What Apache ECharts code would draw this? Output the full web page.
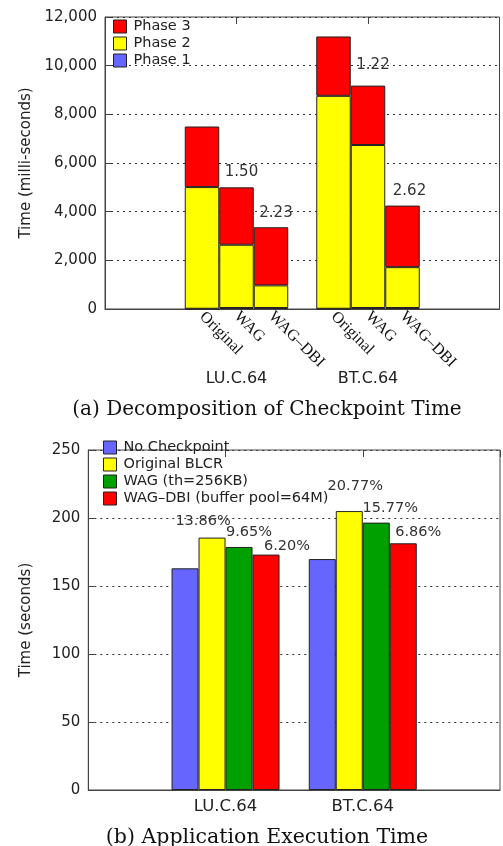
<!DOCTYPE html>
<html><head><meta charset="utf-8">
<script src="https://cdn.jsdelivr.net/npm/echarts@6/dist/echarts.min.js"></script>
<style>html,body{margin:0;padding:0;background:#fff}#c{width:503px;height:846px}</style>
</head><body><div id="c"></div>
<script>
// ---------- data ----------
const benchmarks = ['LU.C.64', 'BT.C.64'];
const methods = ['Original', 'WAG', 'WAG\u2013DBI'];
const topTicks = [0, 2000, 4000, 6000, 8000, 10000, 12000];
// checkpoint time phases (ms); rows follow `methods`, columns follow `benchmarks`
const phase1Values = [[10, 10], [40, 40], [40, 40]];
const phase2Values = [[5000, 8750], [2600, 6700], [930, 1680]];
const phase3Values = [[2490, 2440], [2360, 2440], [2390, 2530]];
const speedups = [['', ''], ['1.50', '1.22'], ['2.23', '2.62']];

const bottomTicks = [0, 50, 100, 150, 200, 250];
const execNames = ['No Checkpoint', 'Original BLCR', 'WAG (th=256KB)', 'WAG\u2013DBI (buffer pool=64M)'];
const execNoCkpt = [163.0, 169.8];
const execOrig = [185.6, 205.1];
const execWag = [178.7, 196.6];
const execDbi = [173.1, 181.4];
const overheadOrig = ['13.86%', '20.77%'];
const overheadWag = ['9.65%', '15.77%'];
const overheadDbi = ['6.20%', '6.86%'];

// ---------- layout / style ----------
const FONT = 'DejaVu Sans';
const cats = [''].concat(benchmarks, ['']);
const phaseColors = ['#6666ff', '#ffff00', '#ff0000'];
const phaseNames = ['Phase 1', 'Phase 2', 'Phase 3'];
const execColors = ['#6666ff', '#ffff00', '#00a000', '#ff0000'];
const speedOffsets = [[[0, 0], [0, 0]], [[5, -3], [5, -8]], [[5, -2], [7, -2]]];
const pctOffsets = [null, [[-9, -4], [6, -12.5]], [[10, -2.5], [14, -2]], [[21, 4.5], [15, 1.5]]];

function wrap(arr, fn) {
  return ['-'].concat(arr.map((v, i) => fn(v, i)), ['-']);
}

const series = [];
const phaseArrays = [phase1Values, phase2Values, phase3Values];
methods.forEach((m, mi) => {
  phaseArrays.forEach((arr, pi) => {
    const s = {
      type: 'bar', name: phaseNames[pi], stack: m,
      xAxisIndex: 0, yAxisIndex: 0,
      barWidth: 34.5, barGap: '0%',
      itemStyle: { color: phaseColors[pi], borderColor: '#222', borderWidth: 1 },
      data: wrap(arr[mi], (v, bi) => {
        const it = { value: v };
        if (pi === 2 && speedups[mi][bi]) {
          it.label = { show: true, position: 'top', distance: 5, offset: speedOffsets[mi][bi],
            formatter: () => speedups[mi][bi], fontFamily: FONT, fontSize: 15, color: '#333' };
        }
        return it;
      })
    };
    if (pi === 0) {
      s.label = { show: true, position: 'bottom', distance: 5, rotate: -45, align: 'left', verticalAlign: 'middle',
        formatter: () => m, fontFamily: 'Liberation Serif', fontSize: 16, color: '#111' };
    }
    series.push(s);
  });
});

const execArrays = [execNoCkpt, execOrig, execWag, execDbi];
const pctArrays = [null, overheadOrig, overheadWag, overheadDbi];
execArrays.forEach((arr, si) => {
  series.push({
    type: 'bar', name: execNames[si], xAxisIndex: 2, yAxisIndex: 1,
    barWidth: 27, barGap: '0%',
    itemStyle: { color: execColors[si], borderColor: '#222', borderWidth: 1 },
    data: wrap(arr, (v, bi) => {
      const it = { value: v };
      if (pctArrays[si]) {
        it.label = { show: true, position: 'top', distance: 5, offset: pctOffsets[si][bi],
          formatter: () => pctArrays[si][bi], fontFamily: FONT, fontSize: 14.5, color: '#333' };
      }
      return it;
    })
  });
});

const splitStyle = { show: true, lineStyle: { color: '#333', width: 1, type: [2, 4] } };

function yAxis(grid, ticks, name, gap, fontSize) {
  return {
    gridIndex: grid, type: 'value', min: ticks[0], max: ticks[ticks.length - 1],
    interval: ticks[1] - ticks[0],
    axisLine: { show: true, lineStyle: { color: '#444' } },
    axisTick: { show: true, inside: true, length: 6, lineStyle: { color: '#444' } },
    axisLabel: { fontFamily: FONT, fontSize: fontSize, color: '#222', margin: 8,
      formatter: v => v.toLocaleString('en-US') },
    splitLine: splitStyle,
    name: name, nameLocation: 'middle', nameGap: gap,
    nameTextStyle: { fontFamily: FONT, fontSize: 15, color: '#222' }
  };
}
function xBottom(grid, margin, fontSize) {
  return {
    gridIndex: grid, type: 'category', data: cats, boundaryGap: false,
    axisLine: { show: true, lineStyle: { color: '#444' } },
    axisTick: { show: false },
    axisLabel: { interval: 0, margin: margin, fontFamily: FONT, fontSize: fontSize, color: '#222' },
    splitLine: { show: false }
  };
}
function xTop(grid) {
  return {
    gridIndex: grid, type: 'category', data: cats, boundaryGap: false, position: 'top',
    axisLine: { show: false },
    axisTick: { show: true, inside: true, length: 7, interval: 0, lineStyle: { color: '#444' } },
    axisLabel: { show: false }, splitLine: { show: false }
  };
}

const option = {
  animation: false,
  backgroundColor: '#fff',
  title: [
    { text: '(a) Decomposition of Checkpoint Time', left: 262, textAlign: 'center', top: 395,
      textStyle: { fontFamily: 'DejaVu Serif', fontSize: 20, fontWeight: 'normal', color: '#111' } },
    { text: '(b) Application Execution Time', left: 262, textAlign: 'center', top: 822,
      textStyle: { fontFamily: 'DejaVu Serif', fontSize: 20.5, fontWeight: 'normal', color: '#111' } }
  ],
  grid: [
    { left: 105, right: 3.5, top: 17, height: 292, show: true, borderColor: '#444', borderWidth: 1 },
    { left: 88.3, right: 3, top: 450, height: 340, show: true, borderColor: '#444', borderWidth: 1 }
  ],
  legend: [
    { data: ['Phase 3', 'Phase 2', 'Phase 1'], orient: 'vertical', left: 108, top: 14,
      itemWidth: 13, itemHeight: 13, itemGap: 2, icon: 'rect',
      itemStyle: { borderColor: '#222', borderWidth: 1 },
      textStyle: { fontFamily: FONT, fontSize: 14.5, color: '#222', lineHeight: 14, padding: [0, 0, 0, 2] } },
    { data: execNames, orient: 'vertical', left: 98, top: 435,
      itemWidth: 13, itemHeight: 13, itemGap: 2, icon: 'rect',
      itemStyle: { borderColor: '#222', borderWidth: 1 },
      textStyle: { fontFamily: FONT, fontSize: 14.5, color: '#222', lineHeight: 14, padding: [0, 0, 0, 2] } }
  ],
  xAxis: [xBottom(0, 62, 16), xTop(0), xBottom(1, 8, 16.5), xTop(1)],
  yAxis: [
    yAxis(0, topTicks, 'Time (milli-seconds)', 70, 15),
    yAxis(1, bottomTicks, 'Time (seconds)', 55, 15)
  ],
  series: series
};

const chart = echarts.init(document.getElementById('c'), null, { renderer: 'canvas' });
chart.setOption(option);
</script>
</body></html>
